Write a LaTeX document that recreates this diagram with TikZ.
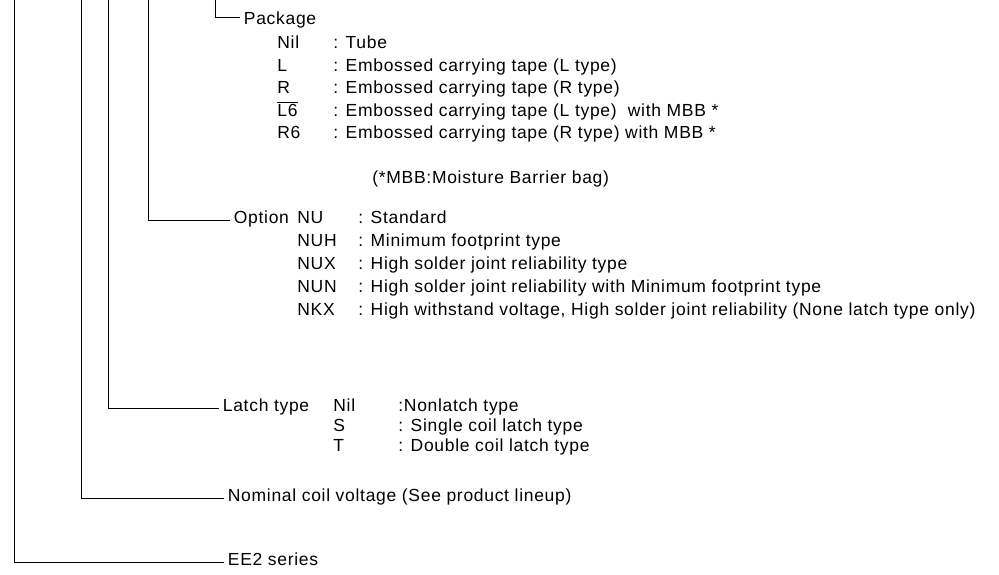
\documentclass[tikz,border=0pt]{standalone}
\usepackage{fontspec}
\setmainfont[LetterSpace=4]{Liberation Sans}
\newcommand\capbar[1]{$\overline{\hbox{#1}}$}
\begin{document}
\begin{tikzpicture}[x=1pt,y=-1pt,line width=0.8pt,
 every node/.style={font=\fontsize{17.5}{21}\selectfont,inner sep=0pt,anchor=west,text height=0.72em,text depth=0pt},
 head/.style={inner xsep=3.5pt},
 lead/.style={draw=black,line join=miter}]
\useasboundingbox (0,0) rectangle (999,574);
% upper ends of the leads
\coordinate (tser) at (14,0);
\coordinate (tvol) at (81,0);
\coordinate (tlat) at (108.5,0);
\coordinate (topt) at (148.5,0);
\coordinate (tpkg) at (215,0);
% package
\node[head] (pkg) at (240,21) {Package};
\foreach \code/\desc [count=\i] in {Nil/{: Tube},L/{: Embossed carrying tape (L type)},R/{: Embossed carrying tape (R type)},{\capbar{L6}}/{: Embossed carrying tape (L type)\ \ with MBB *},R6/{: Embossed carrying tape (R type) with MBB *}}{
 \node (pc\i) at (277,22.5+22.5*\i) {\code};
 \node (pd\i) at (333,22.5+22.5*\i) {\desc};}
\node (mbb) at (372,180) {(*MBB:Moisture Barrier bag)};
% option
\node[head] (opt) at (230,220) {Option};
\foreach \code/\desc [count=\i] in {NU/{: Standard},NUH/{: Minimum footprint type},NUX/{: High solder joint reliability type},NUN/{: High solder joint reliability with Minimum footprint type},NKX/{: High withstand voltage, High solder joint reliability (None latch type only)}}{
 \node (oc\i) at (297,197+23*\i) {\code};
 \node (od\i) at (358,197+23*\i) {\desc};}
% latch type
\node[head] (lat) at (219,408) {Latch type};
\foreach \code/\desc [count=\i] in {Nil/{:Nonlatch type},S/{: Single coil latch type},T/{: Double coil latch type}}{
 \node (lc\i) at (333,388+20*\i) {\code};
 \node (ld\i) at (398,388+20*\i) {\desc};}
\node[head] (vol) at (224,498) {Nominal coil voltage (See product lineup)};
\node[head] (ser) at (224,562) {EE2 series};
\draw[lead] (tpkg) |- (pkg.north west);
\draw[lead] (topt) |- (opt.west);
\draw[lead] (tlat) |- (lat.west);
\draw[lead] (tvol) |- (vol.west);
\draw[lead] (tser) |- (ser.west);
\end{tikzpicture}
\end{document}
